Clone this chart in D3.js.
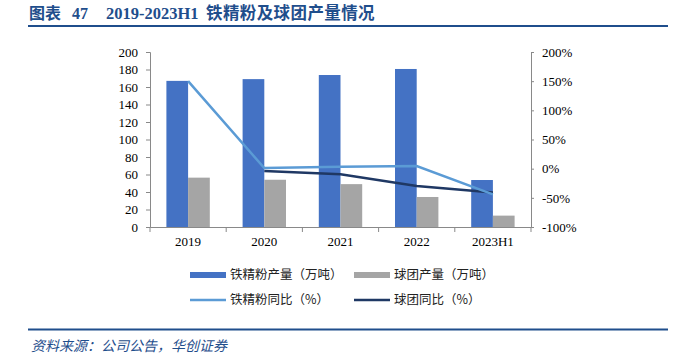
<!DOCTYPE html>
<html><head><meta charset="utf-8">
<script src="https://cdn.jsdelivr.net/npm/d3@7/dist/d3.min.js"></script>
<style>
body{margin:0;background:#fff;}
svg{display:block;}
</style></head>
<body>
<svg id="chart" width="695" height="361"></svg>
<script>
const categories = ["2019","2020","2021","2022","2023H1"];
const ironConcentrate = [167, 169, 173.7, 180.6, 53.7];
const pellet = [56.4, 54, 49, 34.3, 13];
const ironYoY = [150, 1, 3.4, 4.6, -44];
const pelletYoY = [null, -4, -9.7, -29.7, -41];
const leftTicks = [0,20,40,60,80,100,120,140,160,180,200];
const rightTicks = [-100,-50,0,50,100,150,200];
const legendLabels = ["铁精粉产量（万吨）","球团产量（万吨）","铁精粉同比（%）","球团同比（%）"];
const titleParts = ["图表", "47", "2019-2023H1", "铁精粉及球团产量情况"];
const sourceText = "资料来源：公司公告，华创证券";

const svg = d3.select("#chart");
const colors = {blue:"#4472c4", gray:"#a5a5a5", light:"#5b9bd5", dark:"#1f3864", axis:"#898989", title:"#1f4e8c"};
const serif = "'Times New Roman','Liberation Serif',serif";
const cjk = "'Noto Sans CJK SC','Noto Sans',sans-serif";

// title
const t = svg.append("text").attr("y",19)
  .attr("font-weight","bold").attr("fill",colors.title);
t.append("tspan").attr("x",29).attr("font-family",cjk).attr("font-size",16).text(titleParts[0]);
t.append("tspan").attr("x",72).attr("font-family",serif).attr("font-size",16).text(titleParts[1]);
t.append("tspan").attr("x",106).attr("font-family",serif).attr("font-size",16.5).text(titleParts[2]);
t.append("tspan").attr("x",206).attr("font-family",cjk).attr("font-size",16.5).attr("letter-spacing",0.4).text(titleParts[3]);
svg.append("line").attr("x1",28).attr("x2",668).attr("y1",26).attr("y2",26)
  .attr("stroke",colors.title).attr("stroke-width",2);

const x = d3.scaleBand().domain(categories).range([150,531]);
const yL = d3.scaleLinear().domain([0,200]).range([227,52]);
const yR = d3.scaleLinear().domain([-100,200]).range([227,52]);
const barW = 21.7;

// bars
svg.append("g").selectAll("rect").data(categories).join("rect")
  .attr("x",d=>x(d)+x.bandwidth()/2-barW).attr("width",barW)
  .attr("y",(d,i)=>yL(ironConcentrate[i])).attr("height",(d,i)=>yL(0)-yL(ironConcentrate[i]))
  .attr("fill",colors.blue);
svg.append("g").selectAll("rect").data(categories).join("rect")
  .attr("x",d=>x(d)+x.bandwidth()/2).attr("width",barW)
  .attr("y",(d,i)=>yL(pellet[i])).attr("height",(d,i)=>yL(0)-yL(pellet[i]))
  .attr("fill",colors.gray);

// lines
const line = d3.line().defined(d=>d[1]!=null)
  .x(d=>x(d[0])+x.bandwidth()/2).y(d=>yR(d[1]));
svg.append("path").datum(categories.map((c,i)=>[c,pelletYoY[i]]))
  .attr("d",line).attr("fill","none").attr("stroke",colors.dark).attr("stroke-width",2.5);
svg.append("path").datum(categories.map((c,i)=>[c,ironYoY[i]]))
  .attr("d",line).attr("fill","none").attr("stroke",colors.light).attr("stroke-width",2.5);

// axes
function styleAxis(g){
  g.selectAll("path,line").attr("stroke",colors.axis);
  g.selectAll("text").attr("font-family",serif).attr("font-size",13).attr("fill","#000");
}
svg.append("g").attr("transform","translate(150,0)")
  .call(d3.axisLeft(yL).tickValues(leftTicks).tickSizeOuter(0).tickSize(4).tickPadding(8))
  .call(styleAxis);
svg.append("g").attr("transform","translate(531,0)")
  .call(d3.axisRight(yR).tickValues(rightTicks).tickFormat(d=>d+"%").tickSizeOuter(0).tickSize(3).tickPadding(8))
  .call(styleAxis);
const xa = svg.append("g").attr("transform","translate(0,227)")
  .call(d3.axisBottom(x).tickSize(0).tickPadding(10).tickSizeOuter(0))
  .call(styleAxis);
xa.selectAll(".tick text").attr("dy","0.71em");
xa.selectAll("g.sep").data(d3.range(categories.length+1)).join("line")
  .attr("x1",i=>150+i*x.step()).attr("x2",i=>150+i*x.step())
  .attr("y1",0).attr("y2",5).attr("stroke",colors.axis);

// legend
const leg = svg.append("g");
const legItems = [
  {x:190,y:275,type:"rect",c:colors.blue,label:legendLabels[0]},
  {x:354,y:275,type:"rect",c:colors.gray,label:legendLabels[1]},
  {x:190,y:300,type:"line",c:colors.light,label:legendLabels[2]},
  {x:354,y:300,type:"line",c:colors.dark,label:legendLabels[3]},
];
legItems.forEach(it=>{
  if(it.type==="rect") leg.append("rect").attr("x",it.x).attr("y",it.y-3).attr("width",36).attr("height",6).attr("fill",it.c);
  else leg.append("line").attr("x1",it.x).attr("x2",it.x+36).attr("y1",it.y).attr("y2",it.y).attr("stroke",it.c).attr("stroke-width",2.5);
  leg.append("text").attr("x",it.x+40).attr("y",it.y).attr("dy","0.35em")
    .attr("font-family",cjk).attr("font-size",12.5).attr("fill","#222").text(it.label);
});

// source
svg.append("line").attr("x1",28).attr("x2",668).attr("y1",329.5).attr("y2",329.5)
  .attr("stroke",colors.title).attr("stroke-width",2);
svg.append("text").attr("x",31).attr("y",351)
  .attr("font-family",cjk).attr("font-style","italic").attr("font-size",14)
  .attr("fill","#1f4e8c").text(sourceText);
</script>
</body></html>
